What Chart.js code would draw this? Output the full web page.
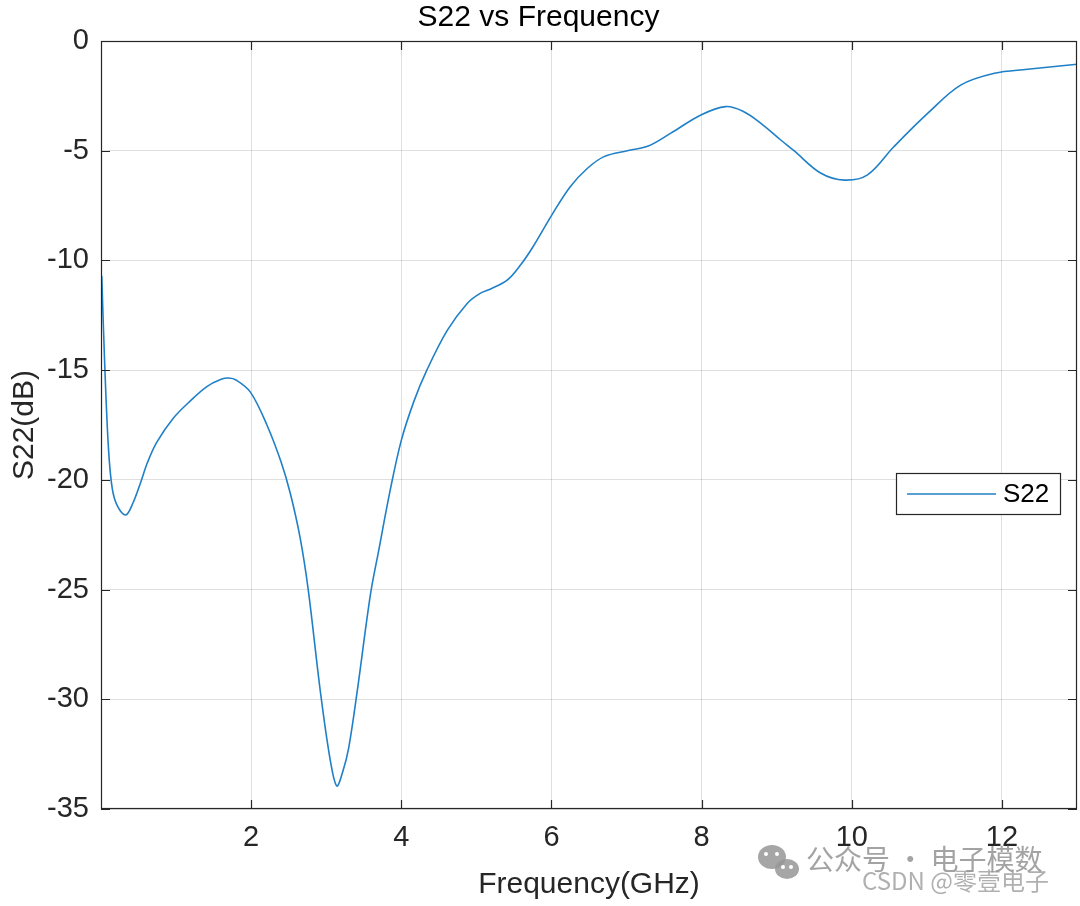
<!DOCTYPE html>
<html>
<head>
<meta charset="utf-8">
<script src="https://cdn.jsdelivr.net/npm/chart.js@4/dist/chart.umd.min.js"></script>
<style>
  html, body { margin: 0; padding: 0; background: #fff; }
  #wrap { width: 1080px; height: 906px; }
</style>
</head>
<body>
<div id="wrap"><canvas id="s22-chart" width="1080" height="906"></canvas></div>
<script>
/* ── Data ──────────────────────────────────────────────── */
const freqGHz = [
  0.01, 0.05, 0.10, 0.15, 0.22, 0.33, 0.42, 0.52, 0.62, 0.74,
  0.96, 1.19, 1.41, 1.60, 1.70, 1.80, 1.99, 2.21, 2.40, 2.52,
  2.65, 2.76, 2.92, 3.05, 3.14, 3.22, 3.30, 3.41, 3.59, 3.70,
  3.85, 4.00, 4.17, 4.34, 4.61, 4.88, 5.05, 5.19, 5.41, 5.59,
  5.75, 6.01, 6.25, 6.48, 6.70, 7.01, 7.28, 7.59, 7.99, 8.32,
  8.55, 8.79, 9.05, 9.23, 9.59, 9.90, 10.21, 10.56, 11.01, 11.45,
  11.90, 12.34, 13.00
];
const s22dB = [
  -10.7, -14.8, -18.6, -20.4, -21.2, -21.6, -21.1, -20.2, -19.2, -18.3,
  -17.2, -16.4, -15.75, -15.42, -15.36, -15.45, -16.0, -17.5, -19.2, -20.6,
  -22.6, -25.0, -29.6, -32.7, -33.95, -33.3, -32.2, -29.7, -25.2, -23.2,
  -20.5, -18.2, -16.4, -15.0, -13.2, -11.95, -11.5, -11.3, -10.9, -10.2,
  -9.4, -7.9, -6.64, -5.8, -5.27, -5.0, -4.8, -4.2, -3.37, -2.99,
  -3.2, -3.75, -4.5, -5.0, -6.03, -6.34, -6.1, -4.82, -3.3, -2.01,
  -1.47, -1.29, -1.06
];
const xTicks = [2, 4, 6, 8, 10, 12];
const yTicks = [-35, -30, -25, -20, -15, -10, -5, 0];

const AXIS_COLOR = '#262626';
const GRID_COLOR = 'rgba(38,38,38,0.15)';
const LINE_COLOR = '#1f80c8';
const FONT = "'Liberation Sans', Arial, sans-serif";

/* ── Box + inward ticks (MATLAB style) ─────────────────── */
const boxPlugin = {
  id: 'boxTicks',
  afterDatasetsDraw(chart) {
    const { ctx, chartArea: a, scales } = chart;
    const tl = 9;
    ctx.save();
    ctx.strokeStyle = AXIS_COLOR;
    ctx.lineWidth = 1.2;
    ctx.strokeRect(a.left + 0.5, a.top + 0.5, a.right - a.left - 1, a.bottom - a.top - 1);
    ctx.beginPath();
    xTicks.forEach(v => {
      const px = Math.round(scales.x.getPixelForValue(v)) + 0.5;
      ctx.moveTo(px, a.bottom); ctx.lineTo(px, a.bottom - tl);
      ctx.moveTo(px, a.top);    ctx.lineTo(px, a.top + tl);
    });
    yTicks.forEach(v => {
      const py = Math.round(scales.y.getPixelForValue(v)) + 0.5;
      ctx.moveTo(a.left, py);  ctx.lineTo(a.left + tl, py);
      ctx.moveTo(a.right, py); ctx.lineTo(a.right - tl, py);
    });
    ctx.stroke();
    ctx.restore();
  },
};

/* ── Legend box + watermark ────────────────────────────── */
const overlayPlugin = {
  id: 'overlay',
  afterDraw(chart) {
    const { ctx, chartArea: a } = chart;
    const ds = chart.data.datasets[0];
    ctx.save();

    // legend
    const lx = a.right - 181, ly = a.top + 432, lw = 164, lh = 41;
    ctx.fillStyle = '#fff';
    ctx.fillRect(lx, ly, lw, lh);
    ctx.strokeStyle = AXIS_COLOR;
    ctx.lineWidth = 1.2;
    ctx.strokeRect(lx + 0.5, ly + 0.5, lw, lh);
    ctx.strokeStyle = ds.borderColor;
    ctx.lineWidth = 1.5;
    ctx.beginPath();
    ctx.moveTo(lx + 11, ly + 21); ctx.lineTo(lx + 100, ly + 21);
    ctx.stroke();
    ctx.fillStyle = '#000';
    ctx.font = `26px ${FONT}`;
    ctx.textBaseline = 'middle';
    ctx.fillText(ds.label, lx + 107, ly + 22);

    // watermark
    ctx.fillStyle = 'rgba(150,150,150,0.85)';
    ctx.beginPath(); ctx.ellipse(772, 857, 14, 12, 0, 0, Math.PI * 2); ctx.fill();
    ctx.beginPath(); ctx.ellipse(787, 869, 12, 10, 0, 0, Math.PI * 2); ctx.fill();
    ctx.fillStyle = '#fff';
    [[766, 854], [777, 854], [783, 867], [791, 867]].forEach(([x, y]) => {
      ctx.beginPath(); ctx.arc(x, y, 2, 0, Math.PI * 2); ctx.fill();
    });
    ctx.fillStyle = 'rgba(140,140,140,0.8)';
    ctx.font = "28px 'Noto Sans CJK SC', sans-serif";
    ctx.fillText('公众号 · 电子模数', 806, 859);
    ctx.fillStyle = 'rgba(150,150,150,0.75)';
    ctx.font = "24px 'Noto Sans CJK SC', sans-serif";
    ctx.fillText('CSDN @零壹电子', 862, 881);
    ctx.restore();
  },
};

/* ── Chart ─────────────────────────────────────────────── */
const ctx = document.getElementById('s22-chart');
new Chart(ctx, {
  type: 'line',
  data: {
    datasets: [{
      label: 'S22',
      data: freqGHz.map((f, i) => ({ x: f, y: s22dB[i] })),
      borderColor: LINE_COLOR,
      borderWidth: 1.6,
      pointRadius: 0,
      fill: false,
      tension: 0.35,
    }],
  },
  options: {
    responsive: false,
    animation: false,
    devicePixelRatio: 1,
    layout: { padding: { left: 0, right: 3, top: 0, bottom: 0 } },
    plugins: {
      legend: { display: false },
      tooltip: { enabled: false },
      title: {
        display: true,
        text: 'S22 vs Frequency',
        color: '#000',
        font: { family: FONT, size: 30, weight: 'normal', lineHeight: 1.0 },
        padding: { top: 3, bottom: 8 },
      },
    },
    scales: {
      x: {
        type: 'linear',
        min: 0, max: 13,
        afterBuildTicks: s => { s.ticks = xTicks.map(v => ({ value: v })); },
        afterFit: s => { s.height = 97; },
        grid: { color: GRID_COLOR, drawTicks: false },
        border: { display: false },
        ticks: { color: AXIS_COLOR, padding: 12, maxRotation: 0, font: { family: FONT, size: 29 } },
        title: {
          display: true,
          text: 'Frequency(GHz)',
          color: AXIS_COLOR,
          font: { family: FONT, size: 30 },
          padding: { top: 4, bottom: 3 },
        },
      },
      y: {
        min: -35, max: 0,
        afterBuildTicks: s => { s.ticks = yTicks.map(v => ({ value: v })); },
        afterFit: s => { s.width = 101; },
        grid: { color: GRID_COLOR, drawTicks: false },
        border: { display: false },
        ticks: { color: AXIS_COLOR, padding: 12, font: { family: FONT, size: 29 } },
        title: {
          display: true,
          text: 'S22(dB)',
          color: AXIS_COLOR,
          font: { family: FONT, size: 30 },
          padding: { top: 7, bottom: 4 },
        },
      },
    },
  },
  plugins: [boxPlugin, overlayPlugin],
});
</script>
</body>
</html>
